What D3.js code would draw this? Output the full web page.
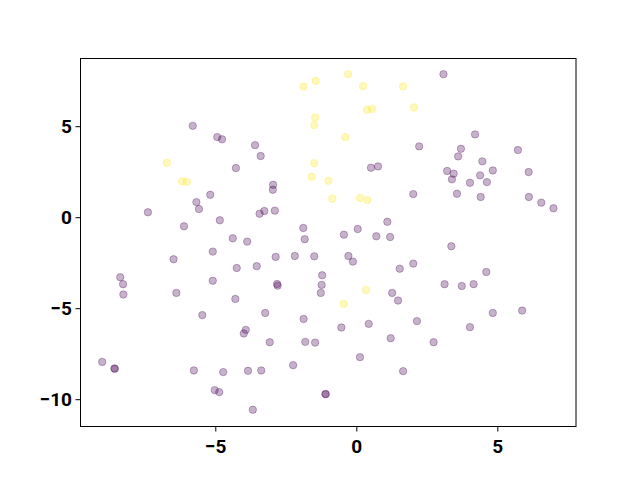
<!DOCTYPE html>
<html>
<head>
<meta charset="utf-8">
<script src="https://cdn.jsdelivr.net/npm/d3@7"></script>
<style>
  html, body { margin: 0; padding: 0; background: #fff; }
  svg { display: block; }
</style>
</head>
<body>
<script>
// Class 0 (purple) points
const purpleX = [-5.80,-4.93,-4.76,-4.27,-5.18,-5.67,-5.58,-7.39,-4.84,-6.11,-4.38,-3.87,-3.59,-3.39,2.23,0.52,0.77,-2.95,-2.96,2.02,
  -3.43,-3.26,-2.89,-1.88,-1.83,-0.44,0.05,1.10,0.71,1.20,3.09,4.21,3.71,3.61,5.73,4.47,4.84,3.22,3.45,3.39,
  6.11,4.39,4.03,4.63,3.57,4.41,6.12,6.56,6.99,3.37,-6.48,-5.09,-4.24,-8.37,-8.27,-8.26,-6.38,-5.09,-4.29,-5.46,
  -3.92,-3.99,-9.01,-8.58,-8.56,-5.76,-4.72,-3.84,-5.02,-4.86,-3.67,-2.86,-2.18,-1.49,-3.53,-0.28,-0.12,1.54,2.02,-2.81,
  -2.79,-1.21,-1.23,-1.26,1.27,1.48,-3.23,-1.87,-0.53,0.44,2.15,-3.07,-1.81,-1.46,1.22,0.13,-3.37,-2.24,1.66,-1.10,
  -1.08,4.61,3.13,3.74,4.16,4.84,5.88,4.03,2.74];
const purpleY = [5.02,4.40,4.28,2.70,1.23,0.83,0.45,0.27,-0.17,-0.50,-1.16,-1.34,3.96,3.36,3.89,2.72,2.79,1.78,1.51,1.27,
  0.19,0.34,0.36,-0.59,-1.21,-0.96,-0.65,-0.25,-1.05,-1.09,7.86,4.55,3.76,3.34,3.69,3.07,2.57,2.54,2.39,2.08,
  2.48,2.30,1.89,1.93,1.29,1.11,1.11,0.80,0.49,-1.60,-2.31,-1.89,-2.79,-3.30,-3.68,-4.25,-4.16,-3.49,-4.49,-5.38,
  -6.19,-6.39,-7.95,-8.31,-8.33,-8.42,-8.51,-8.44,-9.50,-9.61,-10.58,-2.18,-2.13,-2.15,-2.69,-2.13,-2.44,-2.83,-2.55,-3.67,
  -3.76,-3.19,-3.72,-4.16,-4.16,-4.58,-5.26,-5.59,-6.06,-5.86,-5.71,-6.87,-6.85,-6.89,-6.65,-7.69,-8.42,-8.13,-8.46,-9.71,
  -9.73,-3.01,-3.68,-3.78,-3.68,-5.26,-5.13,-6.04,-6.87];
// Class 1 (yellow) points
const yellowX = [-6.72,-6.18,-6.01,-1.87,-1.44,-0.29,0.24,1.66,2.05,0.38,0.56,-1.46,-1.49,-0.39,-1.49,-1.58,-0.99,-0.85,0.13,0.39,0.35,-0.45];
const yellowY = [2.99,1.97,1.95,7.18,7.49,7.86,7.20,7.18,6.03,5.90,5.95,5.48,5.06,4.40,2.97,2.22,2.00,1.02,1.05,0.94,-4.00,-4.76];
const xTicks = [-5, 0, 5];
const yTicks = [-10, -5, 0, 5];

const W = 640, H = 480;
const m = {left: 80.5, top: 58.5, right: 576, bottom: 426.5};

const points = [];
purpleX.forEach((x, i) => points.push({x, y: purpleY[i], c: 0}));
yellowX.forEach((x, i) => points.push({x, y: yellowY[i], c: 1}));

const svg = d3.select("body").append("svg").attr("width", W).attr("height", H);

const x = d3.scaleLinear().domain([-9.78, 7.79]).range([m.left, m.right]);
const y = d3.scaleLinear().domain([-11.50, 8.72]).range([m.bottom, m.top]);
const color = c => c === 0 ? "#440154" : "#fde725";

svg.append("g").selectAll("circle").data(points).join("circle")
  .attr("cx", d => x(d.x)).attr("cy", d => y(d.y)).attr("r", 3.7)
  .attr("fill", d => color(d.c)).attr("fill-opacity", 0.3)
  .attr("stroke", d => color(d.c)).attr("stroke-opacity", 0.3).attr("stroke-width", 1);

const fmt = d3.format("d");
const xAxis = svg.append("g").attr("transform", `translate(0,${m.bottom})`)
  .call(d3.axisBottom(x).tickValues(xTicks).tickFormat(fmt).tickSize(5).tickPadding(8).tickSizeOuter(0));
const yAxis = svg.append("g").attr("transform", `translate(${m.left},0)`)
  .call(d3.axisLeft(y).tickValues(yTicks).tickFormat(fmt).tickSize(5).tickPadding(3.5).tickSizeOuter(0));

[xAxis, yAxis].forEach(g => {
  g.select(".domain").remove();
  g.selectAll("line").attr("stroke", "#000").attr("stroke-width", 1);
  g.selectAll("text").attr("fill", "#000")
    .style("font-family", "Roboto, 'Liberation Sans', sans-serif")
    .style("font-weight", "bold").style("font-size", "19px");
});

svg.append("rect")
  .attr("x", m.left).attr("y", m.top)
  .attr("width", m.right - m.left).attr("height", m.bottom - m.top)
  .attr("fill", "none").attr("stroke", "#000").attr("stroke-width", 1);
</script>
</body>
</html>
